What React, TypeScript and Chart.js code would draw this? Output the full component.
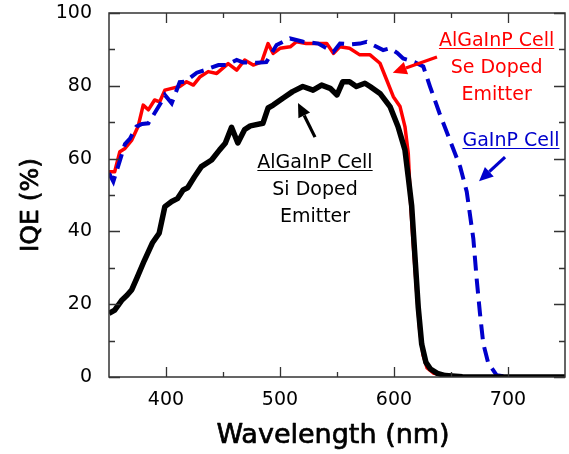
import React, { useEffect, useRef } from "react";
import { Chart, registerables } from "chart.js";

Chart.register(...registerables);

// ---- Data ----
const siWavelength = [350, 355, 361, 366, 370, 375, 381, 388, 394, 399, 405, 410, 415, 419, 425, 431, 440, 447, 452, 457.5, 463, 469, 474, 485, 489.5, 494, 502.5, 511, 520, 529, 536.5, 544, 550, 555, 561, 567, 574.5, 579, 587.7, 596.5, 603.5, 609.6, 612.5, 615.5, 618.4, 621.3, 624.3, 628, 632, 638, 645, 660, 700, 750];
const siIqe = [17.5, 18.4, 21, 22.5, 24, 27.6, 32, 36.8, 39.5, 46.8, 48.2, 49, 51.4, 52, 55, 57.8, 59.6, 62.4, 64.2, 68.6, 64.3, 68, 69, 69.7, 73.9, 74.7, 76.6, 78.4, 79.8, 78.8, 80.2, 79.3, 77.5, 81.1, 81.1, 79.8, 80.7, 79.8, 77.9, 74.3, 68.8, 62.4, 55, 47, 33, 19, 9, 4, 2.2, 1, 0.4, 0.1, 0, 0];

const seWavelength = [350, 355, 359.5, 364, 370, 375.5, 380, 384.5, 390, 394.5, 399, 405, 412, 418, 424, 430, 437, 444.5, 454.5, 462, 469, 476.5, 484, 489.5, 494, 500, 509, 514.5, 523, 529, 541, 547, 552.5, 561, 570, 579, 587.7, 593.6, 599.4, 605.3, 609.6, 612.5, 614.5, 616.5, 619.5, 622.5, 625.5, 629, 635, 645, 660, 700, 750];
const seIqe = [56.4, 56.4, 61.9, 62.8, 65.1, 68.8, 74.7, 73.4, 76.1, 75.6, 78.8, 79.3, 79.8, 81.1, 80.2, 82.5, 83.9, 83.4, 86.1, 84.3, 87.1, 85.7, 86.6, 91.6, 88.9, 90.3, 90.7, 92.1, 91.6, 91.6, 91.6, 88.9, 90.7, 90.3, 88.5, 88.5, 86.2, 81.6, 77, 74.3, 68.8, 61.5, 48, 38, 25, 13, 6, 2.5, 1, 0.4, 0.1, 0, 0];

const gaWavelength = [350, 353.8, 359.6, 364, 368.4, 374, 379, 384.5, 389, 396, 399, 405, 412, 416.7, 427, 434, 446, 453, 462, 468, 479.6, 488, 497, 508.8, 520.4, 533.6, 546.8, 552.6, 562, 570, 576, 583, 590.5, 596.5, 603, 608, 612.5, 618, 625.7, 631.6, 640, 649, 658, 663.8, 669.6, 672.5, 675.4, 678.3, 682.7, 690, 700, 750];
const gaIqe = [56, 53.7, 59.5, 64, 65.5, 68.8, 69.5, 69.7, 72, 75.6, 77.5, 75.2, 81, 81.1, 83.6, 84.3, 85.7, 85.7, 87.1, 86.4, 86.3, 86.5, 91.2, 93, 92.1, 91.6, 89.3, 91.6, 91.4, 91.6, 92.1, 91, 89.8, 90.3, 89, 87.5, 87.1, 86.5, 85.3, 79.8, 72.4, 65.1, 57.8, 50.9, 38, 27, 17.5, 9.2, 3.8, 0.5, 0, 0];

const xTickValues = [400, 500, 600, 700];
const xMinorTickValues = [450, 550, 650];
const yTickValues = [0, 20, 40, 60, 80, 100];
const yMinorTickValues = [10, 30, 50, 70, 90];

const xTitle = "Wavelength (nm)";
const yTitle = "IQE (%)";

const seLabel = ["AlGaInP Cell", "Se Doped", "Emitter"];
const gaLabel = ["GaInP Cell"];
const siLabel = ["AlGaInP Cell", "Si Doped", "Emitter"];

const FONT = "'DejaVu Sans', sans-serif";
const RED = "#ff0000";
const BLUE = "#0000cc";
const BLACK = "#000000";

type Annotation = {
  lines: string[];
  color: string;
  at: [number, number]; // data coords of first-line baseline centre
  arrowFrom: [number, number];
  arrowTo: [number, number];
};

const annotations: Annotation[] = [
  { lines: seLabel, color: RED, at: [690, 90.9], arrowFrom: [637.7, 87.9], arrowTo: [598.9, 83.6] },
  { lines: gaLabel, color: BLUE, at: [702.6, 63.5], arrowFrom: [697.4, 60.4], arrowTo: [674.6, 53.8] },
  { lines: siLabel, color: BLACK, at: [530.7, 57.4], arrowFrom: [530.7, 65.9], arrowTo: [515.8, 75.3] },
];

const toPoints = (xs: number[], ys: number[]) => xs.map((x, i) => ({ x, y: ys[i] }));

const framePlugin = {
  id: "framePlugin",
  afterDatasetsDraw(chart: any) {
    const { ctx, chartArea, scales } = chart;
    const { left, right, top, bottom } = chartArea;
    const xs = scales.x;
    const ys = scales.y;
    ctx.save();
    ctx.strokeStyle = "#333333";
    ctx.lineWidth = 1.5;
    ctx.strokeRect(left, top, right - left, bottom - top);
    ctx.lineWidth = 1.3;
    ctx.beginPath();
    const xt = (v: number, len: number) => {
      const px = Math.round(xs.getPixelForValue(v)) + 0.5;
      ctx.moveTo(px, bottom);
      ctx.lineTo(px, bottom - len);
      ctx.moveTo(px, top);
      ctx.lineTo(px, top + len);
    };
    const yt = (v: number, len: number) => {
      const py = Math.round(ys.getPixelForValue(v)) + 0.5;
      ctx.moveTo(left, py);
      ctx.lineTo(left + len, py);
      ctx.moveTo(right, py);
      ctx.lineTo(right - len, py);
    };
    xTickValues.forEach((v) => xt(v, 10));
    xMinorTickValues.forEach((v) => xt(v, 5));
    yTickValues.forEach((v) => yt(v, 11));
    yMinorTickValues.forEach((v) => yt(v, 6));
    ctx.stroke();
    ctx.restore();
  },
  afterDraw(chart: any) {
    const { ctx, chartArea, scales } = chart;
    const xs = scales.x;
    const ys = scales.y;
    ctx.save();
    // Axis titles
    ctx.fillStyle = "#000";
    ctx.strokeStyle = "#000";
    ctx.lineWidth = 0.7;
    ctx.lineJoin = "round";
    ctx.textAlign = "center";
    ctx.textBaseline = "middle";
    ctx.font = `27px ${FONT}`;
    const tx = (chartArea.left + chartArea.right) / 2 - 4;
    const ty = chartArea.bottom + 59;
    ctx.fillText(xTitle, tx, ty);
    ctx.strokeText(xTitle, tx, ty);
    ctx.save();
    ctx.translate(chartArea.left - 78, (chartArea.top + chartArea.bottom) / 2 + 10);
    ctx.rotate(-Math.PI / 2);
    ctx.font = `25px ${FONT}`;
    ctx.fillText(yTitle, 0, 0);
    ctx.strokeText(yTitle, 0, 0);
    ctx.restore();

    // Annotations
    annotations.forEach((a) => {
      ctx.fillStyle = a.color;
      ctx.strokeStyle = a.color;
      ctx.font = `19px ${FONT}`;
      ctx.textAlign = "center";
      ctx.textBaseline = "alphabetic";
      const cx = xs.getPixelForValue(a.at[0]);
      const by = ys.getPixelForValue(a.at[1]);
      a.lines.forEach((line, i) => {
        const yy = by + i * 27;
        ctx.fillText(line, cx, yy);
        if (i === 0) {
          const w = ctx.measureText(line).width;
          ctx.lineWidth = 1.2;
          ctx.beginPath();
          ctx.moveTo(cx - w / 2, Math.round(yy + 2) + 0.5);
          ctx.lineTo(cx + w / 2, Math.round(yy + 2) + 0.5);
          ctx.stroke();
        }
      });
      // arrow
      const x1 = xs.getPixelForValue(a.arrowFrom[0]);
      const y1 = ys.getPixelForValue(a.arrowFrom[1]);
      const x2 = xs.getPixelForValue(a.arrowTo[0]);
      const y2 = ys.getPixelForValue(a.arrowTo[1]);
      const ang = Math.atan2(y2 - y1, x2 - x1);
      const headLen = 14;
      const headHalf = 6.5;
      const bx = x2 - headLen * Math.cos(ang);
      const byy = y2 - headLen * Math.sin(ang);
      ctx.lineWidth = 3.2;
      ctx.lineCap = "butt";
      ctx.beginPath();
      ctx.moveTo(x1, y1);
      ctx.lineTo(bx, byy);
      ctx.stroke();
      ctx.beginPath();
      ctx.moveTo(x2, y2);
      ctx.lineTo(bx + headHalf * Math.sin(ang), byy - headHalf * Math.cos(ang));
      ctx.lineTo(bx - headHalf * Math.sin(ang), byy + headHalf * Math.cos(ang));
      ctx.closePath();
      ctx.fill();
    });
    ctx.restore();
  },
};

export default function App() {
  const canvasRef = useRef<HTMLCanvasElement | null>(null);

  useEffect(() => {
    if (!canvasRef.current) return;
    const chart = new Chart(canvasRef.current, {
      type: "line",
      data: {
        datasets: [
          {
            label: "AlGaInP Cell Si Doped Emitter",
            data: toPoints(siWavelength, siIqe),
            borderColor: BLACK,
            borderWidth: 5.5,
            borderJoinStyle: "round",
            pointRadius: 0,
            tension: 0,
            fill: false,
          },
          {
            label: "GaInP Cell",
            data: toPoints(gaWavelength, gaIqe),
            borderColor: BLUE,
            borderWidth: 4,
            borderDash: [15, 8],
            pointRadius: 0,
            tension: 0,
            fill: false,
          },
          {
            label: "AlGaInP Cell Se Doped Emitter",
            data: toPoints(seWavelength, seIqe),
            borderColor: RED,
            borderWidth: 3.5,
            borderJoinStyle: "round",
            pointRadius: 0,
            tension: 0,
            fill: false,
          },
        ],
      },
      options: {
        responsive: false,
        animation: false,
        devicePixelRatio: 1,
        layout: { padding: { left: 0, right: 4, top: 13, bottom: 0 } },
        plugins: { legend: { display: false }, tooltip: { enabled: false } },
        scales: {
          x: {
            type: "linear",
            min: 350,
            max: 750,
            grid: { display: false },
            border: { display: false },
            ticks: {
              color: "#000",
              font: { family: FONT, size: 19 },
              padding: 4,
              maxRotation: 0,
              autoSkip: false,
            },
            afterBuildTicks: (s: any) => {
              s.ticks = xTickValues.map((v) => ({ value: v }));
            },
            afterFit: (s: any) => {
              s.height = 77;
              s.paddingLeft = 0;
              s.paddingRight = 0;
            },
          },
          y: {
            type: "linear",
            min: 0,
            max: 100,
            grid: { display: false },
            border: { display: false },
            ticks: {
              color: "#000",
              font: { family: FONT, size: 19 },
              padding: 9,
              autoSkip: false,
            },
            afterBuildTicks: (s: any) => {
              s.ticks = yTickValues.map((v) => ({ value: v }));
            },
            afterFit: (s: any) => {
              s.width = 109;
              s.paddingTop = 0;
              s.paddingBottom = 0;
            },
          },
        },
      },
      plugins: [framePlugin],
    });
    return () => chart.destroy();
  }, []);

  return (
    <div style={{ position: "fixed", left: 0, top: 0, width: 569, height: 454, background: "#fff" }}>
      <canvas ref={canvasRef} width={569} height={454} style={{ display: "block" }} />
    </div>
  );
}
